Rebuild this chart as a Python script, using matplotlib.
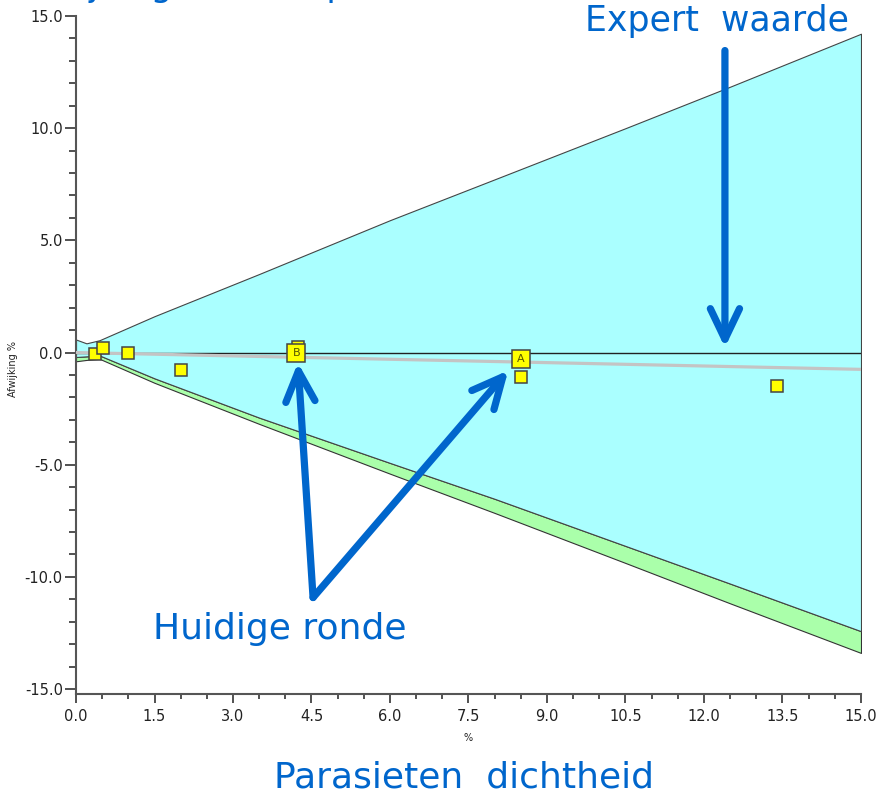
import matplotlib
matplotlib.use("Agg")
import matplotlib.pyplot as plt
from matplotlib.ticker import MultipleLocator, FormatStrFormatter

# ---- data ----
ENV_X = [0.0, 0.2, 0.45, 1.5, 3.5, 6.0, 8.0, 10.5, 12.5, 15.0]
ENV_UPPER = [0.58, 0.41, 0.55, 1.62, 3.50, 5.90, 7.72, 10.0, 11.85, 14.21]
ENV_LOWER = [-0.20, -0.17, -0.13, -1.15, -2.90, -4.92, -6.52, -8.62, -10.3, -12.42]
ENV_LOWER2 = [-0.39, -0.33, -0.28, -1.35, -3.18, -5.40, -7.15, -9.38, -11.18, -13.39]

TREND_X = [0.0, 15.0]
TREND_Y = [0.0, -0.75]

PTS_X = [0.36, 0.51, 1.0, 2.0, 4.25, 8.50, 13.40]
PTS_Y = [-0.05, 0.18, -0.04, -0.76, 0.25, -1.10, -1.49]

LAB_X = [4.21, 8.50]
LAB_Y = [0.0, -0.27]
LAB_TXT = ["B", "A"]

BLUE = "#0066CC"
FONT = ["DejaVu Sans"]


def arrow(ax, tip, tail):
    ax.annotate("", xy=tip, xytext=tail, xycoords="data", textcoords="data",
                annotation_clip=False,
                arrowprops=dict(arrowstyle="->,head_length=22,head_width=10.5",
                                mutation_scale=1, lw=5.2, color=BLUE,
                                shrinkA=0, shrinkB=0, capstyle="round",
                                joinstyle="round"), zorder=6)


def main():
    plt.rcParams["font.family"] = FONT
    fig = plt.figure(figsize=(8.79, 7.96), dpi=100)
    ax = fig.add_axes([76 / 879, 1 - 694 / 796, 785 / 879, 678 / 796])

    # envelopes
    ax.fill_between(ENV_X, ENV_LOWER2, ENV_LOWER, facecolor="#aaffaa",
                    edgecolor="#333333", lw=0.8, zorder=1)
    ax.fill_between(ENV_X, ENV_LOWER, ENV_UPPER, facecolor="#aaffff",
                    edgecolor="#444444", lw=0.8, zorder=2)

    ax.axhline(0, color="#222222", lw=1.0, zorder=3)
    ax.plot(TREND_X, TREND_Y, color="#c4c4c4", lw=2.3, zorder=3)

    ax.plot(PTS_X, PTS_Y, ls="none", marker="s", ms=8.5, mfc="#ffff00",
            mec="#444444", mew=1.1, zorder=4)
    ax.plot(LAB_X, LAB_Y, ls="none", marker="s", ms=13.5, mfc="#ffff00",
            mec="#444444", mew=1.1, zorder=5)
    for x, y, t in zip(LAB_X, LAB_Y, LAB_TXT):
        ax.text(x, y, t, ha="center", va="center", fontsize=8,
                color="#555500", zorder=7)

    # annotation arrows
    arrow(ax, (4.24, -0.45), (4.53, -10.92))
    arrow(ax, (8.26, -0.80), (4.53, -10.92))
    arrow(ax, (12.40, 0.22), (12.40, 13.46))

    # axes styling
    ax.set_xlim(0, 15)
    ax.set_ylim(-15.22, 15)
    for s in ("top", "right"):
        ax.spines[s].set_visible(False)
    for s in ("left", "bottom"):
        ax.spines[s].set_color("#555555")
        ax.spines[s].set_linewidth(1.5)
    ax.set_facecolor("white")

    ax.xaxis.set_major_locator(MultipleLocator(1.5))
    ax.xaxis.set_minor_locator(MultipleLocator(0.5))
    ax.yaxis.set_major_locator(MultipleLocator(5))
    ax.yaxis.set_minor_locator(MultipleLocator(1))
    ax.xaxis.set_major_formatter(FormatStrFormatter("%.1f"))
    ax.yaxis.set_major_formatter(FormatStrFormatter("%.1f"))
    ax.tick_params(axis="y", which="major", length=8, width=1.2,
                   color="#333333", labelsize=10.5, labelcolor="#222222", pad=1.5)
    ax.tick_params(axis="y", which="minor", length=5, width=1.2, color="#333333")
    ax.tick_params(axis="x", which="major", length=6.5, width=1.2,
                   color="#333333", labelsize=10.5, labelcolor="#222222", pad=4)
    ax.tick_params(axis="x", which="minor", length=3.5, width=1.2, color="#333333")

    ax.set_ylabel("Afwijking %", fontsize=7, color="#222222")
    ax.yaxis.set_label_coords(-0.074, 0.48)
    ax.set_xlabel("%", fontsize=7, color="#222222")
    ax.xaxis.set_label_coords(0.5, -0.058)

    # slide annotations (the slide title is cut off at the top edge)
    fig.text(17 / 879, 1 + 4 / 796, "Afwijking van het procent",
             fontsize=25, color=BLUE, ha="left", va="baseline")
    fig.text(717 / 879, 1 - 31 / 796, "Expert  waarde", fontsize=25,
             color=BLUE, ha="center", va="baseline")
    fig.text(280 / 879, 1 - 639 / 796, "Huidige ronde", fontsize=26,
             color=BLUE, ha="center", va="baseline")
    fig.text(464 / 879, 1 - 788 / 796, "Parasieten  dichtheid", fontsize=26,
             color=BLUE, ha="center", va="baseline")

    fig.savefig("out.png", dpi=100)


if __name__ == "__main__":
    main()
